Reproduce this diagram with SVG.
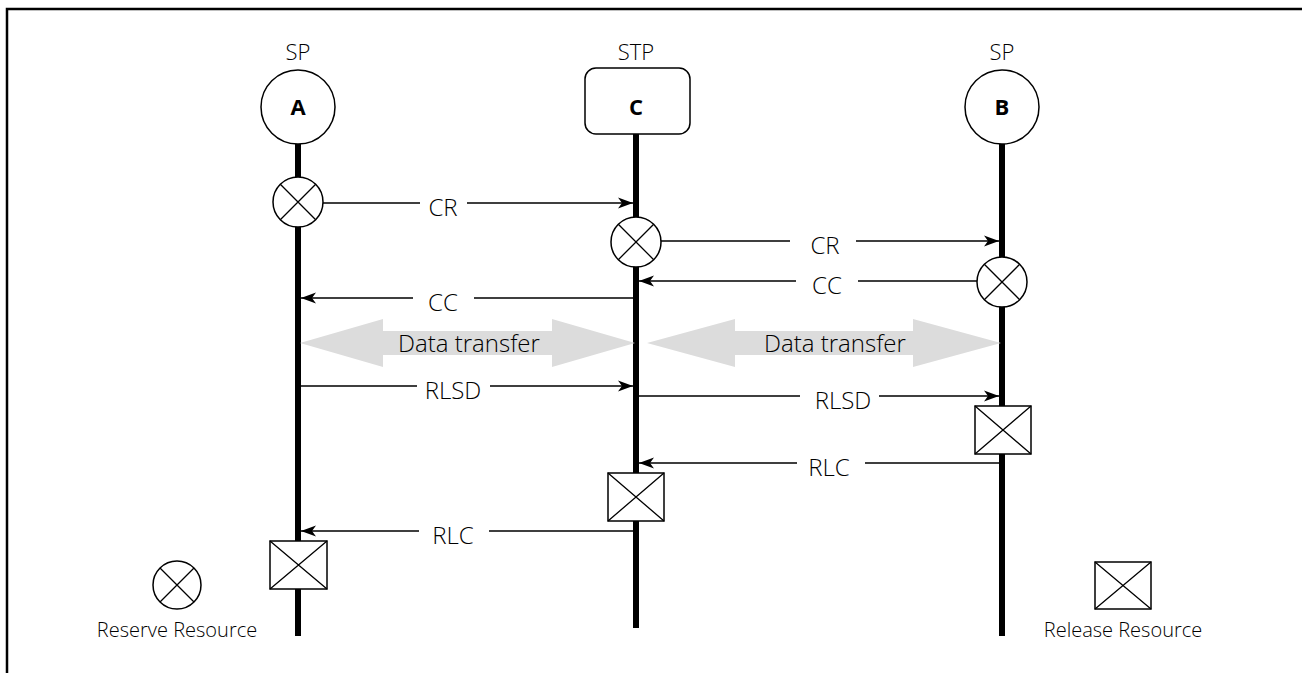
<svg xmlns="http://www.w3.org/2000/svg" width="1302" height="673" viewBox="0 0 1302 673">
<style>
text{font-family:"Open Sans","Noto Sans","Liberation Sans",sans-serif;fill:#000}
.lbl{font-size:24px;font-weight:300;text-anchor:middle;dominant-baseline:central}
.role{font-size:22px;font-weight:300;text-anchor:middle}
.name{font-size:22px;font-weight:bold;text-anchor:middle;dominant-baseline:central}
.leg{font-size:20px;font-weight:300;text-anchor:middle}
.life{stroke:#000;stroke-width:6}
.node{fill:#fff;stroke:#000;stroke-width:1.5}
.sym{fill:#fff;stroke:#000;stroke-width:1.5}
.x{stroke:#000;stroke-width:1.3}
.msg{stroke:#000;stroke-width:1.5;fill:none}
.data{fill:#dcdcdc}
</style>
<defs>
<marker id="ah" markerWidth="16" markerHeight="12" refX="15" refY="6" orient="auto" markerUnits="userSpaceOnUse">
<path d="M0,0.5 L15,6 L0,11.5 L4,6 Z" fill="#000"/>
</marker>
</defs>
<rect x="0" y="0" width="1302" height="673" fill="#fff"/>
<path d="M7,673 V9 H1302" fill="none" stroke="#000" stroke-width="2.5"/>

<g id="lifelines">
<line class="life" x1="298" y1="144" x2="298" y2="636"/>
<line class="life" x1="636" y1="134" x2="636" y2="628"/>
<line class="life" x1="1002" y1="144" x2="1002" y2="636"/>
</g>

<g id="node-A">
<text class="role" x="298" y="60">SP</text>
<circle class="node" cx="298" cy="107" r="37"/>
<text class="name" x="298" y="106">A</text>
</g>
<g id="node-C">
<text class="role" x="636" y="60">STP</text>
<rect class="node" x="585" y="68" width="105" height="66" rx="11"/>
<text class="name" x="636" y="106">C</text>
</g>
<g id="node-B">
<text class="role" x="1002" y="60">SP</text>
<circle class="node" cx="1002" cy="107" r="37"/>
<text class="name" x="1002" y="106">B</text>
</g>

<g id="data-transfer">
<polygon class="data" points="300,343 383,319 383,331 552,331 552,319 635,343 552,367 552,355 383,355 383,367"/>
<text class="lbl" x="469" y="342">Data transfer</text>
<polygon class="data" points="647,343 735,319 735,331 913,331 913,319 1001,343 913,367 913,355 735,355 735,367"/>
<text class="lbl" x="835" y="342">Data transfer</text>
</g>

<g id="connectors">
<path class="msg" d="M323,203 H420 M467,203 H633" marker-end="url(#ah)"/>
<text class="lbl" x="443" y="206">CR</text>
<path class="msg" d="M661,241 H790 M856,241 H999" marker-end="url(#ah)"/>
<text class="lbl" x="825" y="244">CR</text>
<path class="msg" d="M977,281 H858 M796,281 H639" marker-end="url(#ah)"/>
<text class="lbl" x="827" y="284">CC</text>
<path class="msg" d="M633,298 H474 M413,298 H301" marker-end="url(#ah)"/>
<text class="lbl" x="443" y="301">CC</text>
<path class="msg" d="M301,386 H417 M490,386 H633" marker-end="url(#ah)"/>
<text class="lbl" x="453" y="389">RLSD</text>
<path class="msg" d="M639,396 H800 M879,396 H999" marker-end="url(#ah)"/>
<text class="lbl" x="843" y="399">RLSD</text>
<path class="msg" d="M999,463 H865 M797,463 H639" marker-end="url(#ah)"/>
<text class="lbl" x="829" y="466">RLC</text>
<path class="msg" d="M633,531 H489 M419,531 H301" marker-end="url(#ah)"/>
<text class="lbl" x="453" y="534">RLC</text>
</g>

<g id="reserve-A">
<circle class="sym" cx="298" cy="202" r="25"/>
<path class="x" d="M280.3,184.3 L315.7,219.7 M315.7,184.3 L280.3,219.7"/>
</g>
<g id="reserve-C">
<circle class="sym" cx="636" cy="242" r="25"/>
<path class="x" d="M618.3,224.3 L653.7,259.7 M653.7,224.3 L618.3,259.7"/>
</g>
<g id="reserve-B">
<circle class="sym" cx="1002" cy="282" r="25"/>
<path class="x" d="M984.3,264.3 L1019.7,299.7 M1019.7,264.3 L984.3,299.7"/>
</g>

<g id="release-B">
<rect class="sym" x="975" y="406" width="56" height="48"/>
<path class="x" d="M975,406 L1031,454 M1031,406 L975,454"/>
</g>
<g id="release-C">
<rect class="sym" x="608" y="473" width="56" height="48"/>
<path class="x" d="M608,473 L664,521 M664,473 L608,521"/>
</g>
<g id="release-A">
<rect class="sym" x="270" y="541" width="57" height="48"/>
<path class="x" d="M270,541 L327,589 M327,541 L270,589"/>
</g>

<g id="legend-reserve">
<circle class="sym" cx="177" cy="585" r="24"/>
<path class="x" d="M160,568 L194,602 M194,568 L160,602"/>
<text class="leg" x="177" y="637">Reserve Resource</text>
</g>
<g id="legend-release">
<rect class="sym" x="1095" y="562" width="56" height="47"/>
<path class="x" d="M1095,562 L1151,609 M1151,562 L1095,609"/>
<text class="leg" x="1123" y="637">Release Resource</text>
</g>
</svg>
